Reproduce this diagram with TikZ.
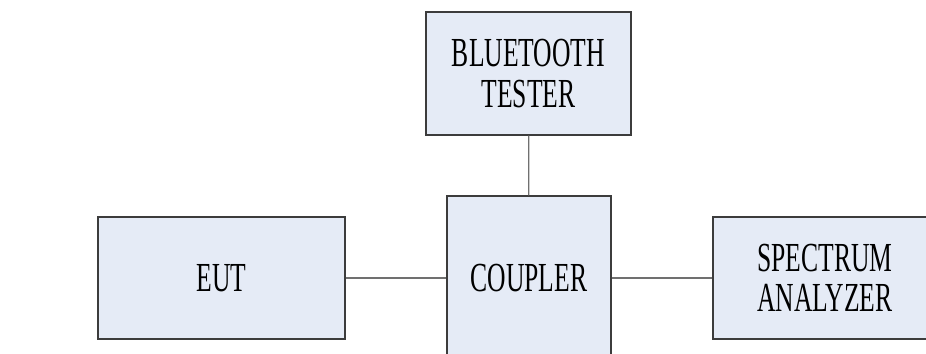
\documentclass[tikz,border=0pt]{standalone}
\usepackage{xcolor}
\usepackage{fontspec}
\setmainfont[FakeStretch=0.62]{Liberation Serif}
\usepackage{tikz}
\definecolor{BTFill}{HTML}{E5EBF6}
\definecolor{BTEdge}{HTML}{3C3C3C}
\definecolor{BTLine}{HTML}{707070}

\begin{document}
\begin{tikzpicture}[x=1cm,y=1cm,
  unit/.style={draw=BTEdge,line width=0.7pt,fill=BTFill,align=center,inner sep=0pt,
    font=\fontsize{23.5}{23}\selectfont},
  link/.style={BTLine,line width=0.7pt}]
\path[use as bounding box] (0,0) rectangle (18.52,7.06);
\node[unit,minimum width=4.10cm,minimum height=2.46cm] (tester) at (10.57,5.59) {BLUETOOTH\\TESTER};
\node[unit,minimum width=3.28cm,minimum height=3.28cm] (coupler) at (10.58,1.50) {COUPLER};
\node[unit,minimum width=4.94cm,minimum height=2.44cm] (eut) at (4.43,1.50) {EUT};
\node[unit,minimum width=4.48cm,minimum height=2.44cm] (analyzer) at (16.50,1.50) {SPECTRUM\\ANALYZER};
\draw[link] (tester) -- (coupler);
\draw[link] (eut) -- (coupler);
\draw[link] (coupler) -- (analyzer);
\end{tikzpicture}
\end{document}
